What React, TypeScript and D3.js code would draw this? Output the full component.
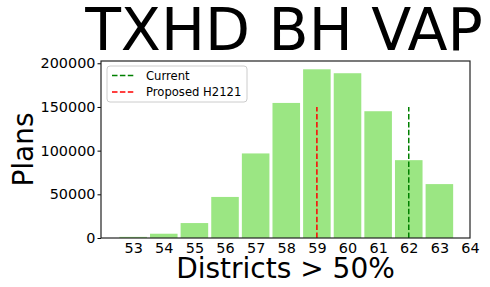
import { useEffect, useRef } from "react";
import * as d3 from "d3";

// districts > 50% (bin centres) and how many plans fell in each
const districts = [53, 54, 55, 56, 57, 58, 59, 60, 61, 62, 63];
const plans = [1300, 4900, 17100, 47000, 96800, 154600, 193100, 188600, 145100, 89100, 61700];
const xTicks = [53, 54, 55, 56, 57, 58, 59, 60, 61, 62, 63, 64];
const yTicks = [0, 50000, 100000, 150000, 200000];

// the two reference plans, drawn as dashed verticals
const markers = [
  { name: "Current", value: 62, top: 150000, color: "green" },
  { name: "Proposed H2121", value: 59, top: 150000, color: "red" },
];

const width = 490;
const height = 287;
const margin = { top: 61, right: 20, bottom: 49, left: 101 };
const font = "DejaVu Sans, sans-serif";

const drawChart = (el: SVGSVGElement) => {
  const svg = d3.select(el);
  svg.selectAll("*").remove();

  const x = d3.scaleLinear().domain([51.95, 64]).range([margin.left, width - margin.right]);
  const y = d3.scaleLinear().domain([0, 202600]).range([height - margin.bottom, margin.top]);

  // bars
  svg.append("g")
    .selectAll("rect")
    .data(districts)
    .join("rect")
    .attr("x", (d) => x(d - 0.45))
    .attr("width", (d) => x(d + 0.45) - x(d - 0.45))
    .attr("y", (d, i) => y(plans[i]))
    .attr("height", (d, i) => y(0) - y(plans[i]))
    .attr("fill", "#9be683");

  // dashed marker lines
  svg.append("g")
    .selectAll("line")
    .data(markers)
    .join("line")
    .attr("x1", (d) => x(d.value))
    .attr("x2", (d) => x(d.value))
    .attr("y1", y(0))
    .attr("y2", (d) => y(d.top))
    .attr("stroke", (d) => d.color)
    .attr("stroke-width", 1.5)
    .attr("stroke-dasharray", "5.5,2.4");

  // axes
  const xAxis = svg.append("g")
    .attr("transform", `translate(0,${height - margin.bottom})`)
    .call(d3.axisBottom(x).tickValues(xTicks).tickSize(0).tickPadding(4.3).tickFormat(d3.format("d")));
  const yAxis = svg.append("g")
    .attr("transform", `translate(${margin.left},0)`)
    .call(d3.axisLeft(y).tickValues(yTicks).tickSize(3.5).tickPadding(2).tickFormat(d3.format("d")));
  [xAxis, yAxis].forEach((a) => {
    a.select(".domain").remove();
    a.selectAll("text").attr("font-family", font).attr("font-size", 14.4).attr("fill", "#000");
    a.selectAll("line").attr("stroke", "#000").attr("stroke-width", 1);
  });

  // frame
  svg.append("rect")
    .attr("x", margin.left)
    .attr("y", margin.top)
    .attr("width", width - margin.right - margin.left)
    .attr("height", height - margin.bottom - margin.top)
    .attr("fill", "none")
    .attr("stroke", "#222")
    .attr("stroke-width", 1.2);

  // legend
  const legend = svg.append("g").attr("transform", `translate(${margin.left + 6},${margin.top + 5})`);
  legend.append("rect")
    .attr("width", 140)
    .attr("height", 36)
    .attr("rx", 3)
    .attr("fill", "white")
    .attr("fill-opacity", 0.8)
    .attr("stroke", "#ccc");
  markers.forEach((m, i) => {
    const row = legend.append("g").attr("transform", `translate(0,${9.5 + i * 16.5})`);
    row.append("line")
      .attr("x1", 5).attr("x2", 27)
      .attr("stroke", m.color).attr("stroke-width", 1.5)
      .attr("stroke-dasharray", "5.5,2.4");
    row.append("text")
      .attr("x", 39).attr("dy", "0.35em")
      .attr("font-family", font).attr("font-size", 11.6)
      .text(m.name);
  });

  // title and axis labels
  svg.append("text")
    .attr("x", 284)
    .attr("y", 49.5)
    .attr("text-anchor", "middle")
    .attr("font-family", font)
    .attr("font-size", 58.5)
    .text("TXHD BH VAP");
  svg.append("text")
    .attr("x", (margin.left + width - margin.right) / 2)
    .attr("y", 277.5)
    .attr("text-anchor", "middle")
    .attr("font-family", font)
    .attr("font-size", 28)
    .text("Districts > 50%");
  svg.append("text")
    .attr("transform", `translate(33,${(margin.top + height - margin.bottom) / 2}) rotate(-90)`)
    .attr("text-anchor", "middle")
    .attr("font-family", font)
    .attr("font-size", 28)
    .text("Plans");
};

export default function App() {
  const ref = useRef<SVGSVGElement>(null);

  useEffect(() => {
    if (ref.current) drawChart(ref.current);
  }, []);

  return (
    <svg
      ref={ref}
      width={width}
      height={height}
      style={{ position: "absolute", left: 0, top: 0, background: "white" }}
    />
  );
}
